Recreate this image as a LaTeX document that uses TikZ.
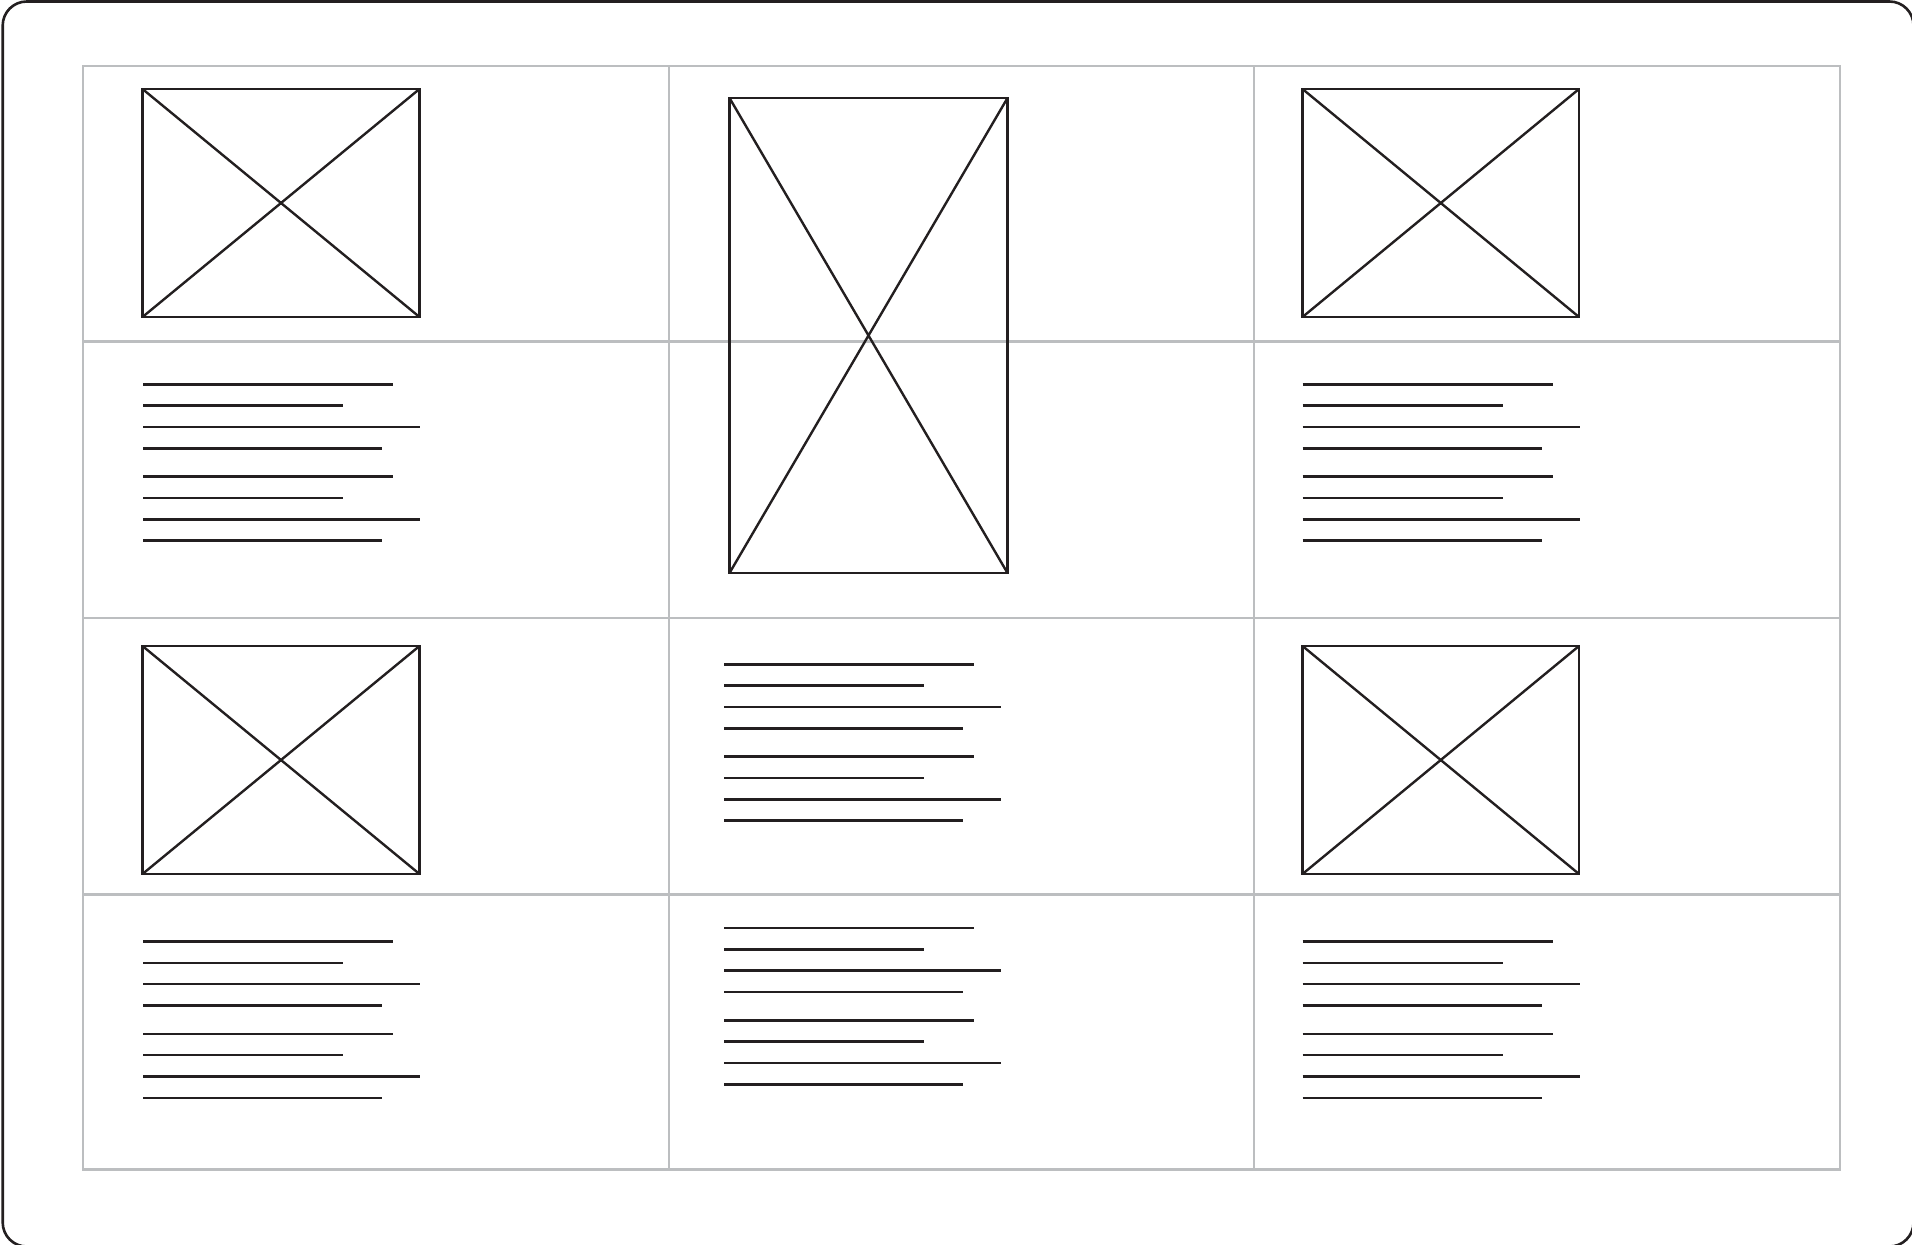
\documentclass[tikz,border=0pt]{standalone}
\definecolor{ink}{HTML}{231F20}
\definecolor{gridgray}{HTML}{BCBEC0}
\begin{document}
\begin{tikzpicture}[x=1pt,y=-1pt,
  frame/.style={draw=ink,line width=2.6pt,rounded corners=24pt},
  gridline/.style={draw=gridgray,line width=2.2pt},
  imgbox/.style={draw=ink,line width=2.8pt},
  imgdiag/.style={draw=ink,line width=2.4pt},
  txtline/.style={draw=ink,line width=2.5pt},
  textblock/.pic={
    \foreach \dy/\len in {0/250,21.4/200,42.7/277,64/239,92.4/250,113.7/200,135/277,156.4/239}
      \draw[txtline] (0,\dy) -- ++(\len,0);
  }]
\useasboundingbox (0,0) rectangle (1912,1245);
\clip (0,0) rectangle (1912,1245);
% outer frame
\draw[frame] (2.7,1.5) rectangle (1913.5,1246.5);
% grid
\draw[gridline] (83,66) rectangle (1840,1169.5);
\foreach \x in {668.7,1254} \draw[gridline] (\x,66) -- (\x,1169.5);
\foreach \y in {341.5,618,894.5} \draw[gridline] (83,\y) -- (1840,\y);
% image placeholders
\foreach \xa/\ya/\xb/\yb in {142.5/89/419.5/317, 1302.5/89/1579/317, 142.5/646/419.5/874, 1302.5/646/1579/874, 729.5/98/1007.5/573}{
  \draw[imgdiag] (\xa,\ya) -- (\xb,\yb) (\xa,\yb) -- (\xb,\ya);
  \draw[imgbox] (\xa,\ya) rectangle (\xb,\yb);
}
% text blocks
\path (143,384.3) pic {textblock};
\path (143,941.4) pic {textblock};
\path (1302.5,384.3) pic {textblock};
\path (1302.5,941.4) pic {textblock};
\path (724,664.3) pic {textblock};
\path (724,928) pic {textblock};
\end{tikzpicture}
\end{document}
